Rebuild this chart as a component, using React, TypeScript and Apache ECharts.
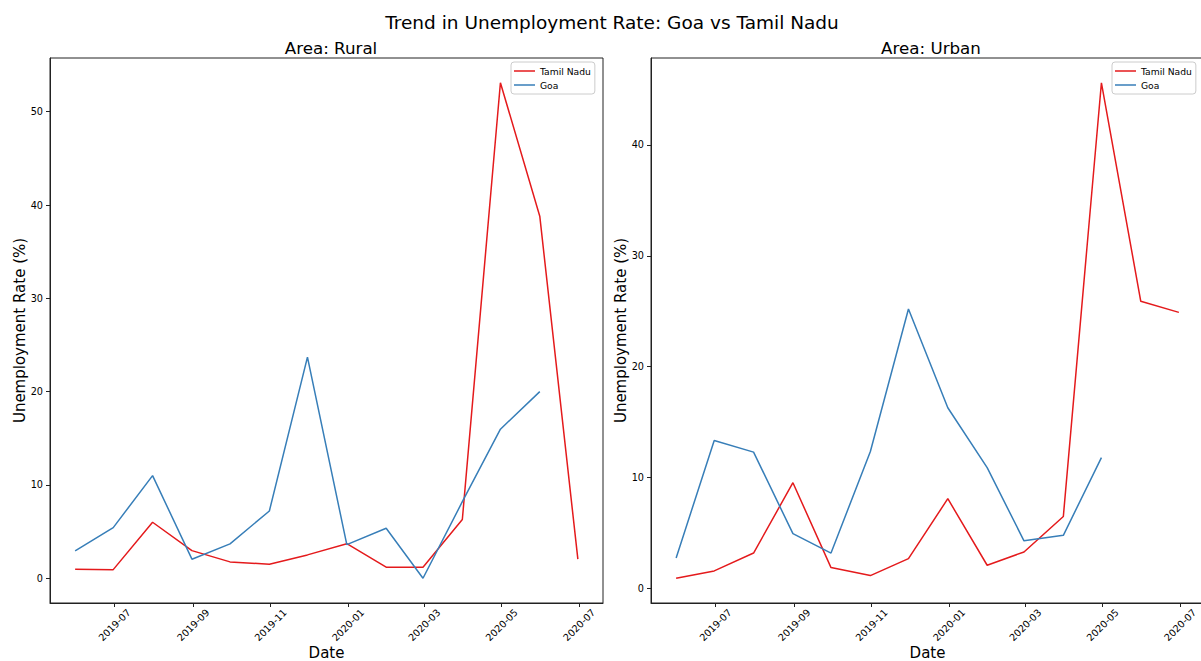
import React, { useEffect, useRef } from "react";
import * as echarts from "echarts";

// ---- Data ----
const dates = [
  "2019-05-31", "2019-06-30", "2019-07-31", "2019-08-31", "2019-09-30", "2019-10-31", "2019-11-30",
  "2019-12-31", "2020-01-31", "2020-02-29", "2020-03-31", "2020-04-30", "2020-05-31", "2020-06-30",
];
const ruralTamilNadu = [0.96, 0.92, 6.0, 2.96, 1.75, 1.5, 2.5, 3.7, 1.18, 1.18, 6.3, 53.1, 38.8, 2.04];
const ruralGoa = [2.93, 5.42, 11.0, 2.04, 3.68, 7.21, 23.69, 3.6, 5.36, 0.0, 8.2, 15.97, 20.0];
const urbanTamilNadu = [0.93, 1.59, 3.2, 9.54, 1.89, 1.17, 2.7, 8.1, 2.1, 3.3, 6.5, 45.6, 25.9, 24.9];
const urbanGoa = [2.76, 13.35, 12.3, 4.95, 3.2, 12.36, 25.2, 16.3, 10.9, 4.3, 4.8, 11.8];

const xTickLabels = ["2019-07", "2019-09", "2019-11", "2020-01", "2020-03", "2020-05", "2020-07"];
const ruralYTicks = [0, 10, 20, 30, 40, 50];
const urbanYTicks = [0, 10, 20, 30, 40];

const suptitle = "Trend in Unemployment Rate: Goa vs Tamil Nadu";
const panelTitles = ["Area: Rural", "Area: Urban"];
const seriesNames = ["Tamil Nadu", "Goa"];
const colors = ["#e41a1c", "#377eb8"];

// ---- helpers ----
const FONT = "DejaVu Sans";
const toTs = (s: string) => {
  const [y, m, d] = s.split("-").map(Number);
  return Date.UTC(y, m - 1, d || 1);
};
const pad2 = (n: number) => (n < 10 ? "0" + n : "" + n);
const fmtMonth = (v: number) => {
  const d = new Date(v);
  return d.getUTCFullYear() + "-" + pad2(d.getUTCMonth() + 1);
};
const withMargin = (vals: number[]) => {
  const mn = Math.min(...vals);
  const mx = Math.max(...vals);
  const r = mx - mn;
  return [mn - 0.05 * r, mx + 0.05 * r];
};
const pairs = (vals: number[]) => vals.map((v, i) => [toTs(dates[i]), v]);

export default function App() {
  const ref = useRef<HTMLDivElement>(null);

  useEffect(() => {
    if (!ref.current) return;
    const chart = echarts.init(ref.current, undefined, { renderer: "svg" });

    const xs = dates.map(toTs);
    const [xMin, xMax] = withMargin(xs);
    const xTickVals = xTickLabels.map((s) => toTs(s + "-01"));
    const [ryMin, ryMax] = withMargin([...ruralTamilNadu, ...ruralGoa]);
    const [uyMin, uyMax] = withMargin([...urbanTamilNadu, ...urbanGoa]);

    const grids = [
      { left: 50, top: 58, width: 553, height: 545 },
      { left: 651, top: 58, width: 553, height: 545 },
    ];

    const axisColor = "#222";
    const makeX = (gi: number) => ({
      type: "value",
      gridIndex: gi,
      min: xMin,
      max: xMax,
      splitLine: { show: false },
      axisLine: { show: true, onZero: false, lineStyle: { color: axisColor, width: 1 } },
      axisTick: { show: true, customValues: xTickVals, length: 4, lineStyle: { color: axisColor } },
      axisLabel: {
        customValues: xTickVals,
        rotate: 45,
        align: "center",
        verticalAlign: "middle",
        margin: 22,
        formatter: (v: number) => fmtMonth(v),
        fontSize: 9.7,
        fontFamily: FONT,
        color: "#000",
      },
      name: "Date",
      nameLocation: "middle",
      nameGap: 42,
      nameMoveOverlap: false,
      nameTextStyle: { fontSize: 15, fontFamily: FONT, color: "#000" },
    });
    const makeY = (gi: number, mn: number, mx: number, ticks: number[]) => ({
      type: "value",
      gridIndex: gi,
      min: mn,
      max: mx,
      splitLine: { show: false },
      axisLine: { show: true, onZero: false, lineStyle: { color: axisColor, width: 1 } },
      axisTick: { show: true, customValues: ticks, length: 4, lineStyle: { color: axisColor } },
      axisLabel: {
        customValues: ticks,
        margin: 7,
        fontSize: 9.7,
        fontFamily: FONT,
        color: "#000",
      },
      name: "Unemployment Rate (%)",
      nameLocation: "middle",
      nameGap: 23,
      nameMoveOverlap: false,
      nameTextStyle: { fontSize: 15, fontFamily: FONT, color: "#000" },
    });

    const makeLegend = (left: number) => ({
      orient: "vertical",
      left,
      top: 62,
      padding: [4, 4, 4, 3],
      itemGap: 4,
      itemWidth: 21,
      itemHeight: 1.5,
      icon: "rect",
      borderColor: "#cccccc",
      borderWidth: 1,
      borderRadius: 3,
      backgroundColor: "rgba(255,255,255,0.8)",
      textStyle: { fontSize: 9.2, fontFamily: FONT, color: "#000", lineHeight: 10 },
      data: seriesNames,
      selectedMode: false,
    });

    const line = (name: string, color: string, data: number[][], gi: number) => ({
      type: "line",
      name,
      xAxisIndex: gi,
      yAxisIndex: gi,
      data,
      showSymbol: false,
      symbol: "none",
      lineStyle: { color, width: 1.5 },
      itemStyle: { color },
      emphasis: { disabled: true },
    });

    chart.setOption({
      animation: false,
      backgroundColor: "#ffffff",
      textStyle: { fontFamily: FONT },
      title: [
        {
          text: suptitle,
          left: 607,
          top: 8,
          textAlign: "center",
          textStyle: { fontSize: 18.5, fontWeight: "normal", fontFamily: FONT, color: "#000" },
        },
        {
          text: panelTitles[0],
          left: 326,
          top: 34,
          textAlign: "center",
          textStyle: { fontSize: 16.7, fontWeight: "normal", fontFamily: FONT, color: "#000" },
        },
        {
          text: panelTitles[1],
          left: 926,
          top: 34,
          textAlign: "center",
          textStyle: { fontSize: 16.7, fontWeight: "normal", fontFamily: FONT, color: "#000" },
        },
      ],
      grid: grids.map((g) => ({
        ...g,
        show: true,
        borderColor: axisColor,
        borderWidth: 1,
        backgroundColor: "transparent",
        containLabel: false,
        outerBoundsMode: "none",
      })),
      xAxis: [makeX(0), makeX(1)],
      yAxis: [makeY(0, ryMin, ryMax, ruralYTicks), makeY(1, uyMin, uyMax, urbanYTicks)],
      legend: [makeLegend(511), makeLegend(1112)],
      series: [
        line(seriesNames[0], colors[0], pairs(ruralTamilNadu), 0),
        line(seriesNames[1], colors[1], pairs(ruralGoa), 0),
        line(seriesNames[0], colors[0], pairs(urbanTamilNadu), 1),
        line(seriesNames[1], colors[1], pairs(urbanGoa), 1),
      ],
    });

    return () => chart.dispose();
  }, []);

  return (
    <div
      ref={ref}
      style={{ position: "fixed", left: 0, top: 0, width: 1210, height: 661, background: "#fff" }}
    />
  );
}
